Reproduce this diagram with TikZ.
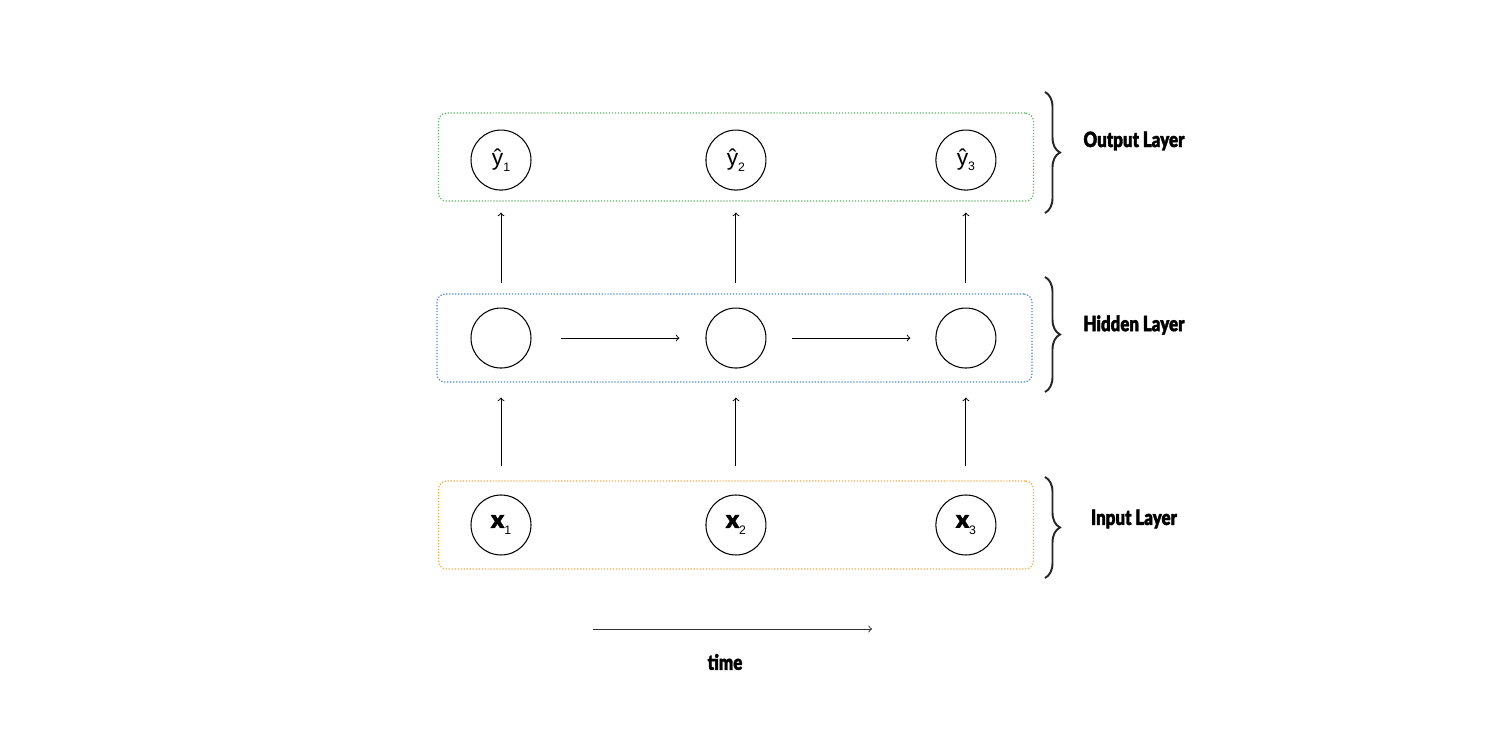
\documentclass[tikz,border=0pt]{standalone}
\usepackage{fontspec}
\usepackage{tikz}
\usetikzlibrary{shapes.geometric, arrows}
\usetikzlibrary{positioning, decorations.pathreplacing}
\newfontfamily\layerfont{Lato Black}[FakeStretch=0.8, FakeBold=1.6]
\newfontfamily\boldxfont{Lato Black}[FakeBold=1.6]
\newfontfamily\symfont{Liberation Sans}
\definecolor{outgreen}{RGB}{95,180,105}
\definecolor{hidblue}{RGB}{70,135,210}
\definecolor{inorange}{RGB}{242,170,70}
\newcommand{\yhat}[1]{{\symfont\fontsize{13}{13}\selectfont ŷ}\raisebox{-0.3em}{\symfont\fontsize{7}{7}\selectfont #1}}
\newcommand{\xin}[1]{{\boldxfont\fontsize{14}{14}\selectfont x}\raisebox{-0.4em}{\symfont\fontsize{7}{7}\selectfont #1}}
\tikzstyle{unit} = [circle, minimum size=1.2cm, inner sep=0pt, draw = black, line width=0.6pt]
\tikzstyle{layer} = [rectangle, rounded corners=0.16cm, minimum width=11.9cm, minimum height=1.76cm, densely dotted, line width=0.7pt]
\tikzstyle{tag} = [font=\layerfont\fontsize{12}{14}\selectfont]
\tikzstyle{brace} = [decorate, decoration={brace, amplitude=0.3cm}, line width=1.1pt, black!85]
\tikzstyle{arrow} = [->,>=to, line width=0.55pt]

\begin{document}
\begin{tikzpicture}[x=0.02cm, y=-0.02cm, node distance=1.5cm]
	\useasboundingbox (0,0) rectangle (1509,742);
	%input layer
	\node (X1) [unit] at (501,525) {\xin{1}};
	\node (X2) [unit,right of=X1,xshift=3.2cm] {\xin{2}};
	\node (X3) [unit,right of=X2,xshift=3.1cm] {\xin{3}};
	%hidden layer
	\node (H1) [unit,above of=X1,yshift=2.24cm] {};
	\node (H2) [unit,above of=X2,yshift=2.24cm] {};
	\node (H3) [unit,above of=X3,yshift=2.24cm] {};
	%output layer
	\node (Y1) [unit,above of=H1,yshift=2.06cm] {\yhat{1}};
	\node (Y2) [unit,above of=H2,yshift=2.06cm] {\yhat{2}};
	\node (Y3) [unit,above of=H3,yshift=2.06cm] {\yhat{3}};
	%boxes
	\node (OB) [layer,draw=outgreen,yshift=0.06cm] at (Y2) {};
	\node (HB) [layer,draw=hidblue,xshift=-0.03cm] at (H2) {};
	\node (IB) [layer,draw=inorange] at (X2) {};
	%braces and names
	\coordinate (OT) at (1045,92);
	\coordinate (OD) at (1045,213);
	\coordinate (HT) at (1045,277);
	\coordinate (HD) at (1045,392);
	\coordinate (IT) at (1045,477);
	\coordinate (ID) at (1045,578);
	\draw [brace] (OT) -- (OD);
	\draw [brace] (HT) -- (HD);
	\draw [brace] (IT) -- (ID);
	\node (OL) [tag] at (1134,141) {Output Layer};
	\node (HL) [tag] at (1134,325) {Hidden Layer};
	\node (IL) [tag] at (1134,519) {Input Layer};
	%arrows
	\draw [arrow,shorten <=0.56cm,shorten >=0.58cm](X1) -- (H1);
	\draw [arrow,shorten <=0.56cm,shorten >=0.58cm](X2) -- (H2);
	\draw [arrow,shorten <=0.56cm,shorten >=0.58cm](X3) -- (H3);
	\draw [arrow,shorten <=0.5cm,shorten >=0.44cm](H1) -- (Y1);
	\draw [arrow,shorten <=0.5cm,shorten >=0.44cm](H2) -- (Y2);
	\draw [arrow,shorten <=0.5cm,shorten >=0.44cm](H3) -- (Y3);
	\draw [arrow,shorten <=0.58cm,shorten >=0.52cm](H1) -- (H2);
	\draw [arrow,shorten <=0.52cm,shorten >=0.5cm](H2) -- (H3);
	%time
	\coordinate (TS) at (593,629);
	\coordinate (TE) at (872,629);
	\draw [arrow,black!80](TS) -- (TE);
	\node (TM) [tag] at (725,662) {time};
\end{tikzpicture}
\end{document}
